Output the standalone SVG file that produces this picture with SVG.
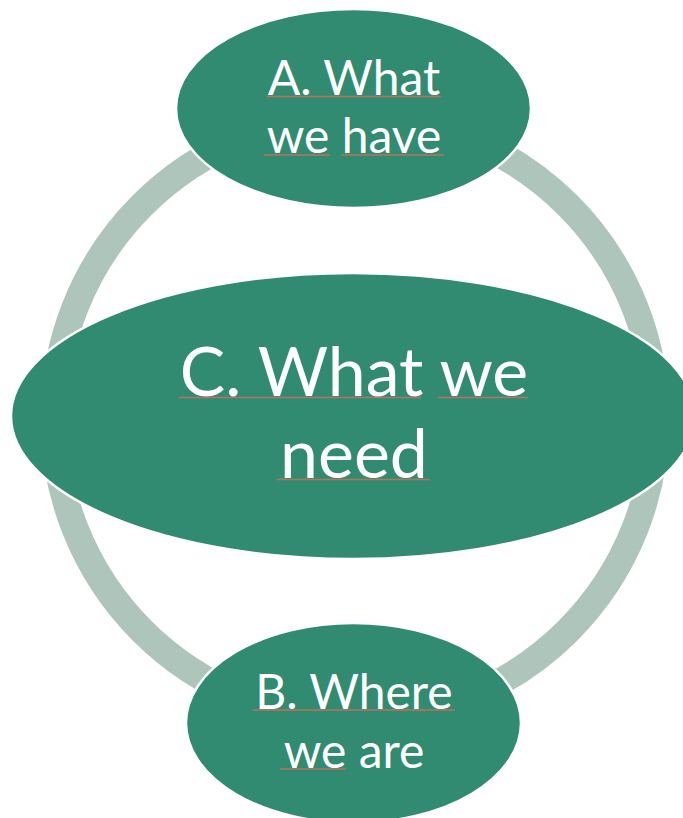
<svg xmlns="http://www.w3.org/2000/svg" width="683" height="818" viewBox="0 0 683 818">
<style>
.node{fill:#318b70;stroke:#ffffff;stroke-width:2.5}
.lbl{font-family:Lato,"Liberation Sans",sans-serif;fill:#ffffff;text-anchor:middle}
.sm{font-size:48px}
.lg{font-size:68px}
.sq{stroke:#b8735f;stroke-width:1.3;fill:none}
</style>
<rect width="683" height="818" fill="#ffffff"/>
<g id="connectors">
<circle cx="355" cy="418" r="301" fill="none" stroke="#adc5ba" stroke-width="27"/>
</g>
<g id="node-a">
<ellipse class="node" cx="353.5" cy="108.5" rx="177.5" ry="99.5"/>
<text class="lbl sm" x="354" y="95">A. What</text>
<text class="lbl sm" x="354" y="153">we have</text>
<path class="sq" d="M267 96.5H441M264 155H330M341 155H444"/>
</g>
<g id="node-c">
<ellipse class="node" cx="353" cy="416" rx="342" ry="143"/>
<text class="lbl lg" x="354" y="396">C. What we</text>
<text class="lbl lg" x="354" y="478">need</text>
<path class="sq" d="M179 397.5H421M438 397.5H528M277 479.5H430"/>
</g>
<g id="node-b">
<ellipse class="node" cx="353.5" cy="723" rx="167.5" ry="100"/>
<text class="lbl sm" x="354" y="709">B. Where</text>
<text class="lbl sm" x="354" y="768">we are</text>
<path class="sq" d="M253 710H455M280 769H346"/>
</g>
</svg>
